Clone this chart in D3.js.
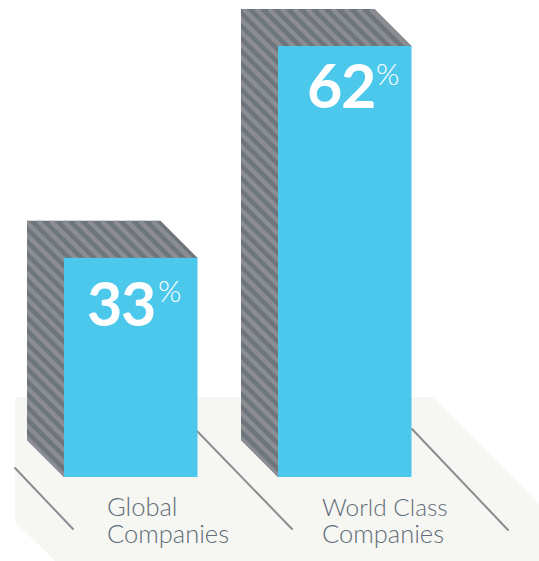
<!DOCTYPE html>
<html>
<head>
<meta charset="utf-8">
<script src="https://cdn.jsdelivr.net/npm/d3@7"></script>
<style>
html,body{margin:0;padding:0;background:#fff}
svg{display:block}
</style>
</head>
<body>
<svg id="chart" width="539" height="561"></svg>
<script>
// Chart data
const categories = [["Global", "Companies"], ["World Class", "Companies"]];
const values = [33, 62];
const valueSuffix = "%";

const depth = 37;
const barWidth = 133.5;
const baseline = 477;
const stripePitch = 12.7;

const svg = d3.select("#chart");

// Truncated value axis: the bars stand on a floor above zero
const y = d3.scaleLinear().domain([3, 62]).range([baseline, 46]);
const x = d3.scaleOrdinal().domain(values.map((_, i) => i)).range([64, 278]);

// Outline of the extruded side and top of a bar
const sidePath = (d, i) => {
  const l = x(i), t = y(d), r = l + barWidth;
  return d3.line()([
    [l - depth, t - depth], [r - depth, t - depth], [r, t],
    [l, baseline], [l - depth, baseline - depth]
  ]) + "Z";
};

const defs = svg.append("defs");
defs.selectAll("clipPath").data(values).join("clipPath")
  .attr("id", (d, i) => "side-" + i)
  .append("path")
  .attr("d", sidePath);

// Floor plane with clipped corners
const floorPoints = [[15, 397], [433, 397], [539, 504], [539, 561], [55, 561], [15, 522]];
svg.append("polygon")
  .attr("points", floorPoints.map(p => p.join(",")).join(" "))
  .attr("fill", "#f6f6f3");

// Floor guide lines running back from the bars
const guides = [[[15, 468], [73, 529]], [[197, 431], [292, 529]], [[412, 429], [508, 530]]];
svg.selectAll("line.guide").data(guides).join("line")
  .attr("class", "guide")
  .attr("x1", d => d[0][0]).attr("y1", d => d[0][1])
  .attr("x2", d => d[1][0]).attr("y2", d => d[1][1])
  .attr("stroke", "#8b8d92")
  .attr("stroke-width", 2)
  .attr("stroke-linecap", "round");

const bars = svg.selectAll("g.bar").data(values).join("g").attr("class", "bar");

// Side faces: dark base with 45-degree light stripes, clipped to the outline
bars.append("path").attr("fill", "#6c767c").attr("d", sidePath);

bars.append("g")
  .attr("clip-path", (d, i) => `url(#side-${i})`)
  .each(function(d, i) {
    const top = y(d) - depth;
    const left = x(i) - depth;
    const span = baseline - top + barWidth + depth;
    const offsets = d3.range(-span, span, stripePitch);
    d3.select(this).selectAll("line").data(offsets).join("line")
      .attr("x1", o => left + 6 + o)
      .attr("y1", top)
      .attr("x2", o => left + 6 + o + span)
      .attr("y2", top + span)
      .attr("stroke", "#8c8d92")
      .attr("stroke-width", 4.5);
  });

// Front face
bars.append("rect")
  .attr("x", (d, i) => x(i))
  .attr("y", d => y(d))
  .attr("width", barWidth)
  .attr("height", d => baseline - y(d))
  .attr("fill", "#4bc8eb");

// Value labels with a light superscript percent sign
bars.append("text")
  .attr("x", (d, i) => x(i) + (i === 0 ? 23 : 29))
  .attr("y", d => y(d) + (d === 33 ? 68 : 62))
  .attr("font-family", "Lato")
  .attr("font-size", 61)
  .attr("font-weight", 700)
  .attr("letter-spacing", -1.5)
  .attr("fill", "#fff")
  .text(d => d);

bars.append("text")
  .attr("x", (d, i) => x(i) + (i === 0 ? 94 : 98))
  .attr("y", d => y(d) + (d === 33 ? 44 : 39))
  .attr("font-family", "Lato")
  .attr("font-size", 30)
  .attr("font-weight", 300)
  .attr("fill", "#fff")
  .text(valueSuffix);

// Category labels, two lines each
const labels = bars.append("text")
  .attr("font-family", "Lato")
  .attr("font-weight", 300)
  .attr("fill", "#5f6d78");
labels.each(function(d, i) {
  d3.select(this).selectAll("tspan").data(categories[i]).join("tspan")
    .attr("x", x(i) + (i === 0 ? 43 : 44))
    .attr("y", (_, j) => 516 + j * 27)
    .attr("font-size", t => t === "World Class" ? 24.4 : 25.5)
    .text(t => t);
});
</script>
</body>
</html>
